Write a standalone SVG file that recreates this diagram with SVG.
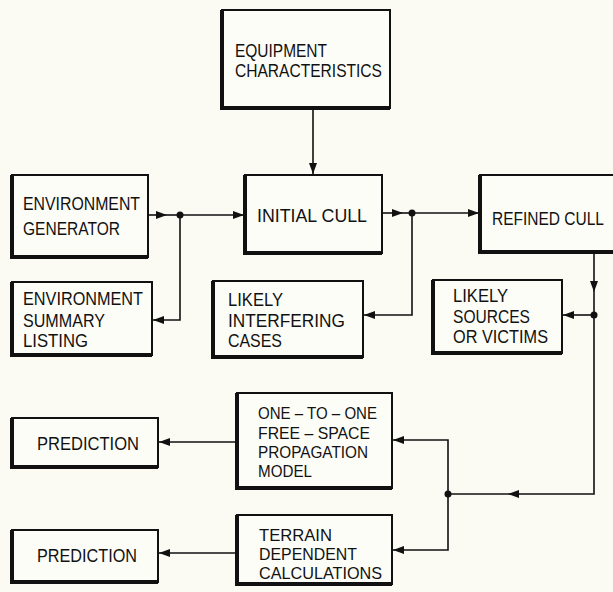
<svg xmlns="http://www.w3.org/2000/svg" width="613" height="592" viewBox="0 0 613 592">
<defs>
<marker id="ah" viewBox="0 0 11 8" refX="11" refY="4" markerWidth="11" markerHeight="8" markerUnits="userSpaceOnUse" orient="auto">
<path d="M0,0 L11,4 L0,8 Z" fill="#111"/>
</marker>
</defs>
<style>
.bg{fill:#fbfbf3}
.box{fill:#fdfdf8;stroke:#111;stroke-width:2}
.sh{stroke:#111;stroke-width:4;fill:none}
.ln{stroke:#111;stroke-width:1.6;fill:none}
.ar{stroke:#111;stroke-width:1.6;fill:none;marker-end:url(#ah)}
.dot{fill:#111}
text{font-family:"Liberation Sans",Arial,sans-serif;font-size:18px;fill:#111}
.big{font-size:19px}
.sm{font-size:17px}
</style>
<rect class="bg" x="0" y="0" width="613" height="592"/>

<g id="equipment">
<rect class="box" x="222" y="10" width="168" height="98"/>
<path class="sh" d="M222,10 V108 H390"/>
<text class="big" x="235" y="57" textLength="92" lengthAdjust="spacingAndGlyphs">EQUIPMENT</text>
<text class="big" x="235" y="77" textLength="147" lengthAdjust="spacingAndGlyphs">CHARACTERISTICS</text>
</g>

<g id="env-generator">
<rect class="box" x="12" y="175" width="136" height="82"/>
<path class="sh" d="M12,175 V257 H148"/>
<text x="23" y="210" textLength="117" lengthAdjust="spacingAndGlyphs">ENVIRONMENT</text>
<text x="23" y="235" textLength="97" lengthAdjust="spacingAndGlyphs">GENERATOR</text>
</g>

<g id="env-summary">
<rect class="box" x="12" y="282" width="140" height="73"/>
<path class="sh" d="M12,282 V355 H152"/>
<text x="23" y="305" textLength="120" lengthAdjust="spacingAndGlyphs">ENVIRONMENT</text>
<text x="23" y="327" textLength="82" lengthAdjust="spacingAndGlyphs">SUMMARY</text>
<text x="23" y="347" textLength="65" lengthAdjust="spacingAndGlyphs">LISTING</text>
</g>

<g id="initial-cull">
<rect class="box" x="245" y="175" width="137" height="78"/>
<path class="sh" d="M245,175 V253 H382"/>
<text x="257" y="222" textLength="110" lengthAdjust="spacingAndGlyphs">INITIAL CULL</text>
</g>

<g id="likely-interfering">
<rect class="box" x="213" y="281" width="150" height="76"/>
<path class="sh" d="M213,281 V357 H363"/>
<text x="228" y="306" textLength="55" lengthAdjust="spacingAndGlyphs">LIKELY</text>
<text x="228" y="327" textLength="117" lengthAdjust="spacingAndGlyphs">INTERFERING</text>
<text x="228" y="347" textLength="54" lengthAdjust="spacingAndGlyphs">CASES</text>
</g>

<g id="refined-cull">
<rect class="box" x="480" y="175" width="135" height="77"/>
<path class="sh" d="M480,175 V252 H615"/>
<text x="492" y="225" textLength="112" lengthAdjust="spacingAndGlyphs">REFINED CULL</text>
</g>

<g id="likely-sources">
<rect class="box" x="433" y="280" width="129" height="73"/>
<path class="sh" d="M433,280 V353 H562"/>
<text x="453" y="302" textLength="55" lengthAdjust="spacingAndGlyphs">LIKELY</text>
<text x="453" y="323" textLength="77" lengthAdjust="spacingAndGlyphs">SOURCES</text>
<text x="453" y="343" textLength="95" lengthAdjust="spacingAndGlyphs">OR VICTIMS</text>
</g>

<g id="one-to-one">
<rect class="box" x="237" y="393" width="155" height="95"/>
<path class="sh" d="M237,393 V488 H392"/>
<text class="sm" x="258" y="419" textLength="119" lengthAdjust="spacingAndGlyphs">ONE – TO – ONE</text>
<text class="sm" x="258" y="439" textLength="112" lengthAdjust="spacingAndGlyphs">FREE – SPACE</text>
<text class="sm" x="258" y="458" textLength="110" lengthAdjust="spacingAndGlyphs">PROPAGATION</text>
<text class="sm" x="258" y="477" textLength="54" lengthAdjust="spacingAndGlyphs">MODEL</text>
</g>

<g id="terrain">
<rect class="box" x="237" y="515" width="155" height="69"/>
<path class="sh" d="M237,515 V584 H392"/>
<text class="sm" x="259" y="541" textLength="73" lengthAdjust="spacingAndGlyphs">TERRAIN</text>
<text class="sm" x="259" y="560" textLength="98" lengthAdjust="spacingAndGlyphs">DEPENDENT</text>
<text class="sm" x="259" y="579" textLength="123" lengthAdjust="spacingAndGlyphs">CALCULATIONS</text>
</g>

<g id="prediction-1">
<rect class="box" x="12" y="418" width="146" height="49"/>
<path class="sh" d="M12,418 V467 H158"/>
<text x="37" y="450" textLength="102" lengthAdjust="spacingAndGlyphs">PREDICTION</text>
</g>

<g id="prediction-2">
<rect class="box" x="12" y="530" width="146" height="52"/>
<path class="sh" d="M12,530 V582 H158"/>
<text x="37" y="562" textLength="100" lengthAdjust="spacingAndGlyphs">PREDICTION</text>
</g>

<g id="connectors">
<path class="ar" d="M313,109 V174"/>
<path class="ar" d="M149,215 H167"/>
<path class="ln" d="M167,215 H180"/>
<path class="ar" d="M180,215 H244"/>
<path class="ar" d="M180,215 V320 H153"/>
<circle class="dot" cx="180" cy="215" r="3.5"/>
<path class="ar" d="M383,213 H403"/>
<path class="ln" d="M403,213 H412"/>
<path class="ar" d="M412,213 H479"/>
<path class="ar" d="M412,213 V315 H364"/>
<circle class="dot" cx="412" cy="213" r="3.5"/>
<path class="ar" d="M594,253 V292"/>
<path class="ln" d="M594,292 V315"/>
<path class="ar" d="M594,315 H563"/>
<circle class="dot" cx="594" cy="315" r="3.5"/>
<path class="ln" d="M594,315 V494 H520"/>
<path class="ar" d="M520,494 H508"/>
<path class="ln" d="M508,494 H448"/>
<path class="ar" d="M448,494 V440 H393"/>
<path class="ar" d="M448,494 V550 H393"/>
<circle class="dot" cx="448" cy="494" r="3.5"/>
<path class="ar" d="M236,442 H159"/>
<path class="ar" d="M236,553 H159"/>
</g>
</svg>
